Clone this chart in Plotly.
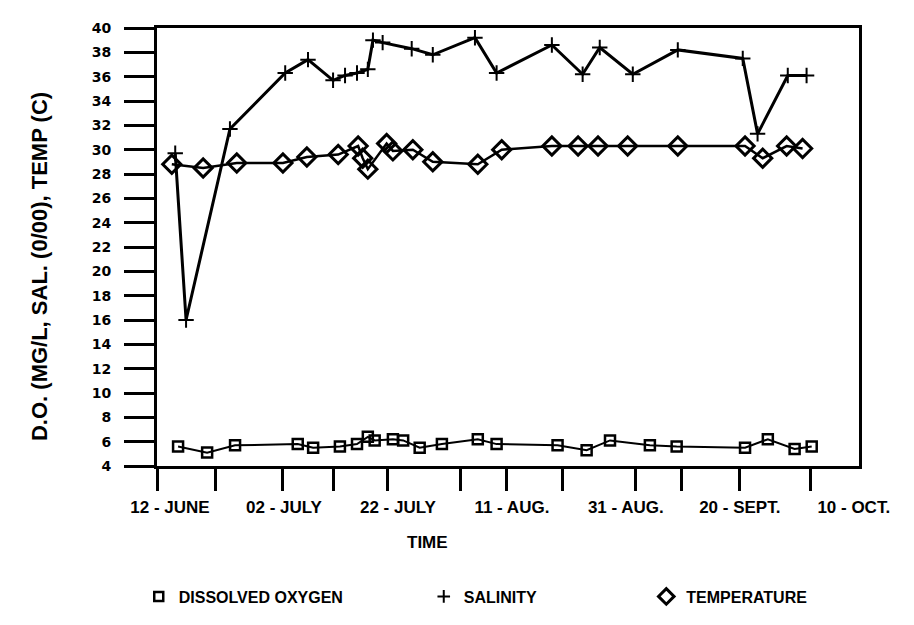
import plotly.graph_objects as go

# ---- data (x = days after 12 June) ----
sal_days = [2.5, 4.4, 12.1, 21.8, 25.8, 30.2, 32.3, 34.4, 36.3, 37.2, 38.9, 44.0,
            47.7, 55.1, 58.9, 68.6, 74.0, 77.0, 82.8, 90.7, 102.1, 104.7, 110.0, 113.3]
salinity = [29.7, 16.0, 31.7, 36.3, 37.4, 35.7, 36.1, 36.3, 36.6, 39.0, 38.8, 38.3,
            37.8, 39.2, 36.3, 38.6, 36.2, 38.4, 36.2, 38.2, 37.5, 31.3, 36.1, 36.1]

temp_days = [1.9, 7.4, 13.3, 21.4, 25.6, 31.1, 34.6, 35.4, 36.3, 39.6, 40.7, 44.2,
             47.7, 55.6, 59.8, 68.6, 73.2, 76.7, 81.9, 90.7, 102.5, 105.6, 109.8, 112.6]
temperature = [28.8, 28.5, 28.9, 28.9, 29.4, 29.6, 30.3, 29.3, 28.4, 30.5, 29.9, 30.0,
               29.0, 28.8, 30.0, 30.3, 30.3, 30.3, 30.3, 30.3, 30.3, 29.3, 30.3, 30.1]

do_days = [3.0, 8.1, 13.0, 24.0, 26.7, 31.4, 34.4, 36.3, 37.5, 40.7, 42.5, 45.4,
           49.3, 55.6, 58.9, 69.6, 74.7, 78.8, 85.8, 90.5, 102.5, 106.5, 111.2, 114.2]
dissolved_oxygen = [5.6, 5.1, 5.7, 5.8, 5.5, 5.6, 5.8, 6.4, 6.1, 6.2, 6.1, 5.5,
                    5.8, 6.2, 5.8, 5.7, 5.3, 6.1, 5.7, 5.6, 5.5, 6.2, 5.4, 5.6]

label_days = [0, 20, 40, 60, 80, 100, 120]
label_text = ["12 - JUNE", "02 - JULY", "22 - JULY", "11 - AUG.", "31 - AUG.",
              "20 - SEPT.", "10 - OCT."]
tick_days = [-0.68, 9.5, 21.4, 30.2, 39.8, 52.5, 60.7, 70.5, 83.2, 91.4, 101.6, 113.9]
y_ticks = list(range(4, 41, 2))

FONT = "Liberation Sans"
fig = go.Figure()

fig.add_trace(go.Scatter(
    x=do_days, y=dissolved_oxygen, mode="lines+markers", name="DISSOLVED OXYGEN",
    line=dict(color="black", width=2),
    marker=dict(symbol="square-open", size=10, color="black", line=dict(width=2.5)),
    showlegend=False))
fig.add_trace(go.Scatter(
    x=sal_days, y=salinity, mode="lines+markers", name="SALINITY",
    line=dict(color="black", width=3),
    marker=dict(symbol="cross-thin", size=11, color="black", line=dict(width=2, color="black")),
    showlegend=False))
fig.add_trace(go.Scatter(
    x=temp_days, y=temperature, mode="lines+markers", name="TEMPERATURE",
    line=dict(color="black", width=2.5),
    marker=dict(symbol="diamond-open", size=14, color="black", line=dict(width=3)),
    showlegend=False))

# legend entries (markers only, as in the original key)
fig.add_trace(go.Scatter(x=[None], y=[None], mode="markers", name="DISSOLVED OXYGEN",
                         marker=dict(symbol="square-open", size=9, color="black", line=dict(width=2.5)),
                         legend="legend"))
fig.add_trace(go.Scatter(x=[None], y=[None], mode="markers", name="SALINITY",
                         marker=dict(symbol="cross-thin", size=9, color="black", line=dict(width=2, color="black")),
                         legend="legend2"))
fig.add_trace(go.Scatter(x=[None], y=[None], mode="markers", name="TEMPERATURE",
                         marker=dict(symbol="diamond-open", size=12, color="black", line=dict(width=3)),
                         legend="legend3"))

leg_common = dict(orientation="h", yanchor="middle", xanchor="left", y=-0.298,
                  font=dict(family=FONT, size=16, color="black", weight="bold"),
                  bgcolor="rgba(0,0,0,0)", borderwidth=0)

# the page adds an 8px body margin, so the figure is 8px smaller than the window
fig.update_layout(
    width=906, height=617,
    margin=dict(l=149, r=55, t=12, b=149),
    plot_bgcolor="white", paper_bgcolor="white",
    font=dict(family=FONT, color="black"),
    legend=dict(x=-0.026, **leg_common),
    legend2=dict(x=0.380, **leg_common),
    legend3=dict(x=0.697, **leg_common),
    xaxis=dict(
        range=[-0.7, 122.5], showgrid=False, zeroline=False,
        showline=True, linecolor="black", linewidth=3, mirror=True,
        tickmode="array", tickvals=label_days, ticktext=label_text, ticks="",
        ticklabelshift=9, ticklabelstandoff=24,
        tickfont=dict(family=FONT, size=17, color="black", weight="bold"),
        minor=dict(tickmode="array", tickvals=tick_days, ticks="outside",
                   ticklen=22, tickwidth=3, tickcolor="black"),
    ),
    yaxis=dict(
        range=[4, 40], showgrid=False, zeroline=False,
        showline=True, linecolor="black", linewidth=3, mirror=True,
        tickmode="array", tickvals=y_ticks, ticks="outside", ticklen=30,
        tickwidth=3, tickcolor="black", ticklabelstandoff=10,
        tickfont=dict(family="DejaVu Sans", size=14, color="black", weight="bold"),
    ),
    annotations=[
        dict(text="TIME", xref="paper", yref="paper", x=0.386, y=-0.175,
             xanchor="center", yanchor="middle", showarrow=False,
             font=dict(family=FONT, size=17, color="black", weight="bold")),
        dict(text="D.O. (MG/L, SAL. (0/00), TEMP (C)", textangle=-90,
             xref="paper", yref="paper", x=-0.167, y=0.456,
             xanchor="center", yanchor="middle", showarrow=False,
             font=dict(family=FONT, size=22, color="black", weight="bold")),
    ],
)

fig.write_html("out.html")
